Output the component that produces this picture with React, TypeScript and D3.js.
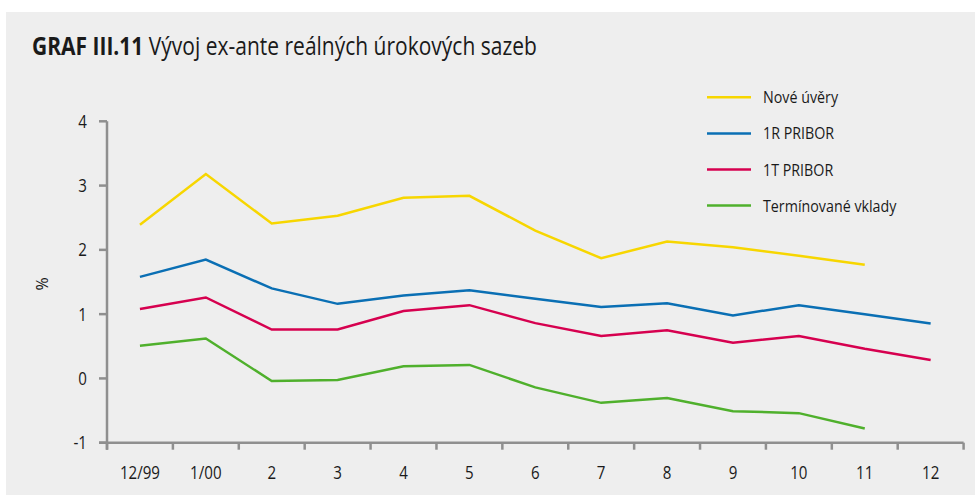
import { useRef, useEffect } from 'react';
import * as d3 from 'd3';

const categories = ['12/99', '1/00', '2', '3', '4', '5', '6', '7', '8', '9', '10', '11', '12'];
const yTicks = [-1, 0, 1, 2, 3, 4];

const noveUvery = [2.39, 3.18, 2.41, 2.53, 2.81, 2.84, 2.3, 1.87, 2.13, 2.04, 1.91, 1.77, null];
const pribor1R = [1.58, 1.85, 1.4, 1.16, 1.29, 1.37, 1.24, 1.11, 1.17, 0.98, 1.14, 1.0, 0.855];
const pribor1T = [1.08, 1.26, 0.76, 0.76, 1.05, 1.14, 0.86, 0.66, 0.75, 0.555, 0.66, 0.46, 0.285];
const vklady = [0.51, 0.62, -0.04, -0.025, 0.19, 0.21, -0.14, -0.38, -0.305, -0.51, -0.54, -0.78, null];

const seriesNames = ['Nové úvěry', '1R PRIBOR', '1T PRIBOR', 'Termínované vklady'];
const seriesColors = ['#f7d600', '#0a6fb4', '#d6004f', '#4fb02c'];

const FONT = '"Open Sans", "Noto Sans", sans-serif';
const SQUEEZE = 0.84;

type Sel = d3.Selection<any, unknown, null, undefined>;

// text squeezed horizontally to imitate the condensed face of the original
const txt = (parent: Sel, x: number, y: number, str: string, size: number, anchor = 'start') =>
  parent.append('g')
    .attr('transform', `translate(${x},${y}) scale(${SQUEEZE},1)`)
    .append('text')
    .attr('text-anchor', anchor)
    .attr('font-size', size)
    .attr('fill', '#1a1a1a')
    .text(str);

const App = () => {
  const svgRef = useRef<SVGSVGElement | null>(null);

  useEffect(() => {
    const width = 975;
    const height = 495;
    const svg = d3.select(svgRef.current);
    svg.selectAll('*').remove();
    svg.attr('width', width).attr('height', height).style('font-family', FONT);

    svg.append('rect')
      .attr('x', 6).attr('y', 12)
      .attr('width', width - 6).attr('height', height - 12)
      .attr('fill', '#eeeeee');

    const title = svg.append('g')
      .attr('transform', `translate(32,55) scale(${SQUEEZE},1)`)
      .append('text')
      .attr('font-size', 25)
      .attr('fill', '#1a1a1a');
    title.append('tspan').attr('font-weight', 'bold').text('GRAF III.11');
    title.append('tspan').text(' Vývoj ex-ante reálných úrokových sazeb');

    const left = 107;
    const right = 963.6;
    const top = 121.3;
    const bottom = 442.7;

    const x = d3.scaleBand().domain(categories).range([left, right]);
    const y = d3.scaleLinear().domain([-1, 4]).range([bottom, top]);

    const axisColor = '#8f8f8f';
    const g = svg.append('g');

    // y axis
    g.append('line')
      .attr('x1', left).attr('x2', left)
      .attr('y1', top).attr('y2', bottom + 7)
      .attr('stroke', axisColor).attr('stroke-width', 2.5);
    g.selectAll('.ytick')
      .data(yTicks)
      .join('line')
      .attr('x1', left - 8).attr('x2', left)
      .attr('y1', d => y(d)).attr('y2', d => y(d))
      .attr('stroke', axisColor).attr('stroke-width', 2.5);
    yTicks.forEach(t => {
      txt(g, 87, y(t) + 6.5, String(t), 18, 'end');
    });

    // x axis
    g.append('line')
      .attr('x1', left - 8).attr('x2', right)
      .attr('y1', bottom).attr('y2', bottom)
      .attr('stroke', axisColor).attr('stroke-width', 2.5);
    const xEdges = categories.map(c => x(c) as number).concat([right]);
    g.selectAll('.xtick')
      .data(xEdges)
      .join('line')
      .attr('x1', d => d).attr('x2', d => d)
      .attr('y1', bottom).attr('y2', bottom + 7)
      .attr('stroke', axisColor).attr('stroke-width', 2.5);
    categories.forEach(c => {
      txt(g, (x(c) as number) + x.bandwidth() / 2, 478.5, c, 18, 'middle');
    });

    svg.append('text')
      .attr('transform', 'translate(48,284) rotate(-90)')
      .attr('text-anchor', 'middle')
      .attr('font-size', 16)
      .attr('fill', '#1a1a1a')
      .text('%');

    const allSeries = [noveUvery, pribor1R, pribor1T, vklady];
    const line = d3.line<number | null>()
      .defined(d => d !== null)
      .x((_, i) => (x(categories[i]) as number) + x.bandwidth() / 2)
      .y(d => y(d as number));

    allSeries.forEach((s, i) => {
      svg.append('path')
        .datum(s)
        .attr('fill', 'none')
        .attr('stroke', seriesColors[i])
        .attr('stroke-width', 2.5)
        .attr('d', line);
    });

    // legend
    const legend = svg.append('g');
    seriesNames.forEach((name, i) => {
      const ly = 97.3 + i * 36.1;
      legend.append('line')
        .attr('x1', 707).attr('x2', 751)
        .attr('y1', ly).attr('y2', ly)
        .attr('stroke', seriesColors[i]).attr('stroke-width', 2.5);
      txt(legend, 763, ly + 6, name, 17);
    });
  }, []);

  return (
    <div style={{ position: 'absolute', left: 0, top: 0 }}>
      <svg ref={svgRef} style={{ display: 'block' }}></svg>
    </div>
  );
};

export default App;
